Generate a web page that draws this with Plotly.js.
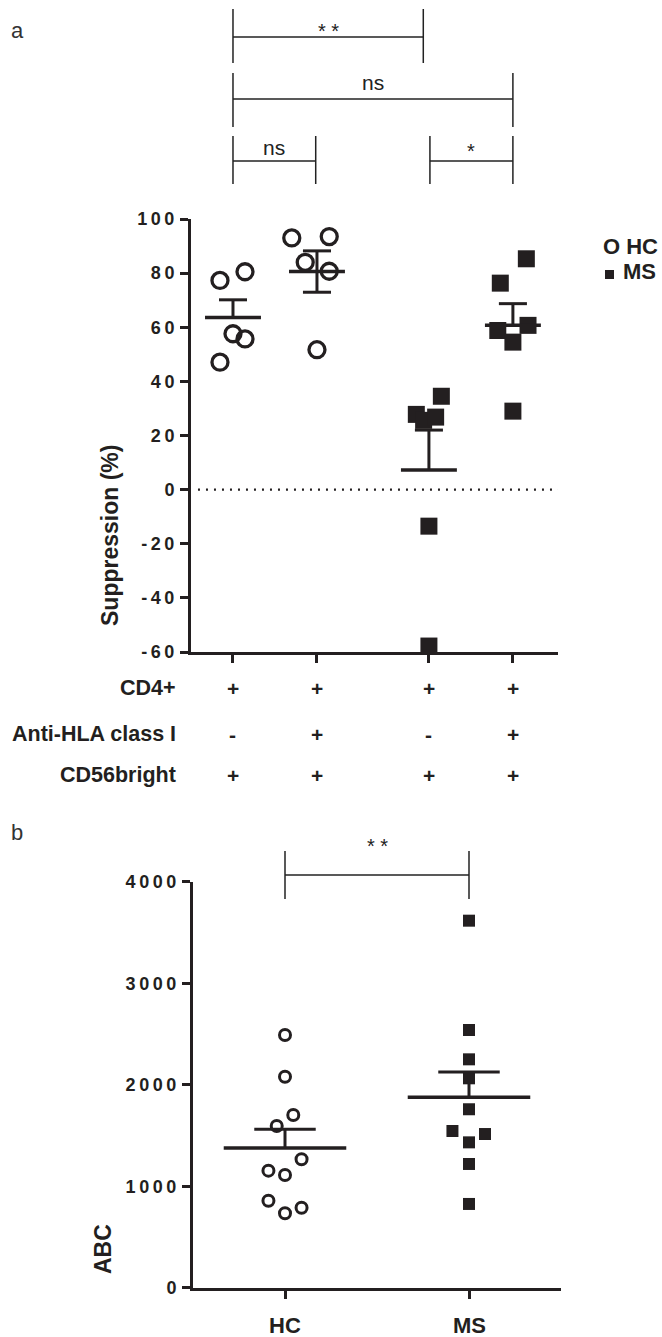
<!DOCTYPE html>
<html><head><meta charset="utf-8">
<script src="https://cdn.plot.ly/plotly-3.0.1.min.js"></script>
<style>html,body{margin:0;padding:0;background:#fff;}#chart{width:662px;height:1337px;}</style>
</head><body><div id="chart"></div>
<script>
// ---------- Panel a data ----------
const groupPos = [1, 2, 3.333, 4.333];
const hcNoAb = [77.3, 80.5, 57.6, 55.7, 47.1];
const hcNoAbJitter = [-0.155, 0.143, 0, 0.143, -0.155];
const hcAb = [93.0, 93.5, 84.0, 80.7, 51.7];
const hcAbJitter = [-0.30, 0.146, -0.14, 0.146, 0];
const msNoAb = [27.8, 25.6, 26.8, 34.5, -13.5, -57.8];
const msNoAbJitter = [-0.15, -0.063, 0.08, 0.148, 0, 0];
const msAb = [76.3, 85.3, 58.8, 60.7, 54.5, 29.0];
const msAbJitter = [-0.15, 0.16, -0.18, 0.18, 0, 0];
const rowLabels = ['CD4+', 'Anti-HLA class I', 'CD56bright'];
const rowCD4 = ['+', '+', '+', '+'];
const rowAntiHLA = ['-', '+', '-', '+'];
const rowCD56 = ['+', '+', '+', '+'];
const suppTicks = [-60, -40, -20, 0, 20, 40, 60, 80, 100];
const sigAFrom = [1, 1, 1, 3.345];
const sigATo = [3.266, 4.333, 1.985, 4.333];
const sigALabels = ['* *', 'ns', 'ns', '*'];
const legendLabels = ['O HC', 'MS'];

// ---------- Panel b data ----------
const abcGroups = ['HC', 'MS'];
const abcPos = [1, 2];
const abcHC = [2490, 2079, 1701, 1593, 1265, 1153, 1110, 857, 788, 733];
const abcHCJitter = [0, 0, 0.045, -0.045, 0.09, -0.09, 0, -0.09, 0.09, 0];
const abcMS = [3616, 2539, 2250, 2063, 1758, 1544, 1514, 1432, 1219, 825];
const abcMSJitter = [0, 0, 0, 0, 0, -0.09, 0.087, 0, 0, 0];
const abcTicks = [0, 1000, 2000, 3000, 4000];
const sigBLabel = '* *';

// ---------- helpers ----------
const W = 662, H = 1337;
const px = v => v / W;
const py = v => 1 - v / H;
const INK = '#231f20';
const mean = a => a.reduce((s, v) => s + v, 0) / a.length;
const sem = a => { const m = mean(a); return Math.sqrt(a.reduce((s, v) => s + (v - m) * (v - m), 0) / (a.length - 1)) / Math.sqrt(a.length); };
const spaced = v => String(v).split('').join('\u2009');
const BOLD = {family: 'Liberation Sans, Arial, sans-serif', weight: 'bold', color: INK};
const NARROW = {family: 'Liberation Sans Narrow, Arial Narrow, Liberation Sans, sans-serif', weight: 'bold', color: INK, size: 18};

function pointsTrace(vals, jit, center, symbol, size, lw, xa, ya) {
  return {
    x: vals.map((v, i) => center + jit[i]), y: vals, xaxis: xa, yaxis: ya,
    mode: 'markers', type: 'scatter', cliponaxis: false, hoverinfo: 'skip',
    marker: {symbol: symbol, size: size, color: INK, line: {width: lw, color: INK}}
  };
}
function summaryTraces(groups, centers, dirs, xa, ya, halfMean, halfCap, lw) {
  const mx = [], my = [], ex = [], ey = [];
  groups.forEach((g, i) => {
    const c = centers[i], m = mean(g), s = sem(g);
    mx.push(c - halfMean, c + halfMean, null); my.push(m, m, null);
    const top = m + s, bot = dirs[i] === 'both' ? m - s : m;
    ex.push(c, c, null, c - halfCap, c + halfCap, null); ey.push(bot, top, null, top, top, null);
    if (dirs[i] === 'both') { ex.push(c - halfCap, c + halfCap, null); ey.push(bot, bot, null); }
  });
  return [
    {x: ex, y: ey, xaxis: xa, yaxis: ya, mode: 'lines', type: 'scatter', hoverinfo: 'skip', cliponaxis: false, line: {color: INK, width: lw}},
    {x: mx, y: my, xaxis: xa, yaxis: ya, mode: 'lines', type: 'scatter', hoverinfo: 'skip', cliponaxis: false, line: {color: INK, width: lw + 0.5}}
  ];
}

const groupsA = [hcNoAb, hcAb, msNoAb, msAb];
const traces = [
  pointsTrace(hcNoAb, hcNoAbJitter, groupPos[0], 'circle-open', 16, 3.3, 'x', 'y'),
  pointsTrace(hcAb, hcAbJitter, groupPos[1], 'circle-open', 16, 3.3, 'x', 'y'),
  pointsTrace(msNoAb, msNoAbJitter, groupPos[2], 'square', 17, 0, 'x', 'y'),
  pointsTrace(msAb, msAbJitter, groupPos[3], 'square', 17, 0, 'x', 'y'),
  ...summaryTraces(groupsA, groupPos, ['up', 'both', 'up', 'up'], 'x', 'y', 0.333, 0.167, 3),
  pointsTrace(abcHC, abcHCJitter, abcPos[0], 'circle-open', 11, 3, 'x2', 'y2'),
  pointsTrace(abcMS, abcMSJitter, abcPos[1], 'square', 12, 0, 'x2', 'y2'),
  ...summaryTraces([abcHC, abcMS], abcPos, ['up', 'up'], 'x2', 'y2', 0.333, 0.167, 3)
];

const annotations = [];
const shapes = [];
const ann = (o) => annotations.push(Object.assign({showarrow: false, xref: 'paper', yref: 'paper', xanchor: 'center', yanchor: 'middle'}, o));

// panel labels
ann({text: 'a', x: px(17), y: py(31), font: {family: 'Liberation Sans, Arial', size: 22, color: '#333'}});
ann({text: 'b', x: px(17), y: py(832), font: {family: 'Liberation Sans, Arial', size: 22, color: '#333'}});
// axis titles
ann({text: 'Suppression (%)', textangle: -90, x: px(110), y: py(536), font: Object.assign({}, BOLD, {size: 23})});
ann({text: 'ABC', textangle: -90, x: px(103), y: py(1249), font: Object.assign({}, BOLD, {size: 23})});
// row labels
const rowY = [688, 734, 775];
const rowVals = [rowCD4, rowAntiHLA, rowCD56];
rowLabels.forEach((t, r) => {
  ann({text: t, xanchor: 'right', x: px(178), y: py(rowY[r]), font: Object.assign({}, BOLD, {size: 21.5})});
  rowVals[r].forEach((s, i) => ann({text: s, xref: 'x', x: groupPos[i], y: py(rowY[r]), font: Object.assign({}, BOLD, {size: 21})}));
});
// legend
ann({text: legendLabels[0], xanchor: 'left', x: px(601), y: py(246), font: Object.assign({}, BOLD, {size: 22})});
ann({text: legendLabels[1], xanchor: 'left', x: px(621), y: py(272), font: Object.assign({}, BOLD, {size: 22})});
shapes.push({type: 'rect', xref: 'paper', yref: 'paper', x0: px(605), x1: px(614), y0: py(279), y1: py(270), fillcolor: INK, line: {width: 0}});
// x labels panel b
abcGroups.forEach((g, i) => ann({text: g, xref: 'x2', x: abcPos[i], y: py(1325), font: Object.assign({}, BOLD, {size: 22})}));

// significance brackets panel a
const brA = [[9, 37, 63, 27], [73, 99, 127, 82], [136, 161, 184, 147], [136, 161, 184, 147]];
sigALabels.forEach((lab, i) => {
  const [t, m, b, ly] = brA[i];
  const lc = {color: '#222', width: 1.5};
  shapes.push({type: 'line', xref: 'x', yref: 'paper', x0: sigAFrom[i], x1: sigAFrom[i], y0: py(t), y1: py(b), line: lc});
  shapes.push({type: 'line', xref: 'x', yref: 'paper', x0: sigATo[i], x1: sigATo[i], y0: py(t), y1: py(b), line: lc});
  shapes.push({type: 'line', xref: 'x', yref: 'paper', x0: sigAFrom[i], x1: sigATo[i], y0: py(m), y1: py(m), line: lc});
  ann({text: lab, xref: 'x', x: (sigAFrom[i] + sigATo[i]) / 2, y: py(ly + (lab.indexOf('*') >= 0 ? 4 : 0)), font: {family: 'Liberation Sans, Arial', size: lab === 'ns' ? 21 : 20, color: '#222'}});
});
// bracket panel b
{
  const lc = {color: '#222', width: 1.5};
  shapes.push({type: 'line', xref: 'x2', yref: 'paper', x0: abcPos[0], x1: abcPos[0], y0: py(851), y1: py(899), line: lc});
  shapes.push({type: 'line', xref: 'x2', yref: 'paper', x0: abcPos[1], x1: abcPos[1], y0: py(851), y1: py(899), line: lc});
  shapes.push({type: 'line', xref: 'x2', yref: 'paper', x0: abcPos[0], x1: abcPos[1], y0: py(875), y1: py(875), line: lc});
  ann({text: sigBLabel, xref: 'x2', x: (abcPos[0] + abcPos[1]) / 2, y: py(846), font: {family: 'Liberation Sans, Arial', size: 20, color: '#222'}});
}
// zero dotted line
shapes.push({type: 'line', xref: 'x', yref: 'y', x0: 0.583, x1: 4.87, y0: 0, y1: 0, line: {color: INK, width: 2.2, dash: '2px,6px'}});

const axBase = {showline: true, linewidth: 3, linecolor: INK, ticks: 'outside', ticklen: 8, tickwidth: 3, tickcolor: INK, showgrid: false, zeroline: false, fixedrange: true};

const layout = {
  width: W, height: H, margin: {l: 0, r: 0, t: 0, b: 0},
  paper_bgcolor: '#fff', plot_bgcolor: 'rgba(0,0,0,0)', showlegend: false,
  xaxis: Object.assign({}, axBase, {domain: [px(191), px(558)], range: [0.5, 4.87], anchor: 'y', tickvals: groupPos, showticklabels: false}),
  yaxis: Object.assign({}, axBase, {domain: [py(652), py(219)], range: [-60, 100], anchor: 'x', tickvals: suppTicks, ticktext: suppTicks.map(spaced), tickfont: NARROW, ticklabelstandoff: 2}),
  xaxis2: Object.assign({}, axBase, {domain: [px(193), px(561)], range: [0.5, 2.5], anchor: 'y2', tickvals: abcPos, showticklabels: false}),
  yaxis2: Object.assign({}, axBase, {domain: [py(1287.7), py(881.7)], range: [0, 4000], anchor: 'x2', tickvals: abcTicks, ticktext: abcTicks.map(spaced), tickfont: NARROW, ticklabelstandoff: 2}),
  annotations: annotations, shapes: shapes
};

Plotly.newPlot('chart', traces, layout, {staticPlot: true, displayModeBar: false});
</script>
</body></html>
